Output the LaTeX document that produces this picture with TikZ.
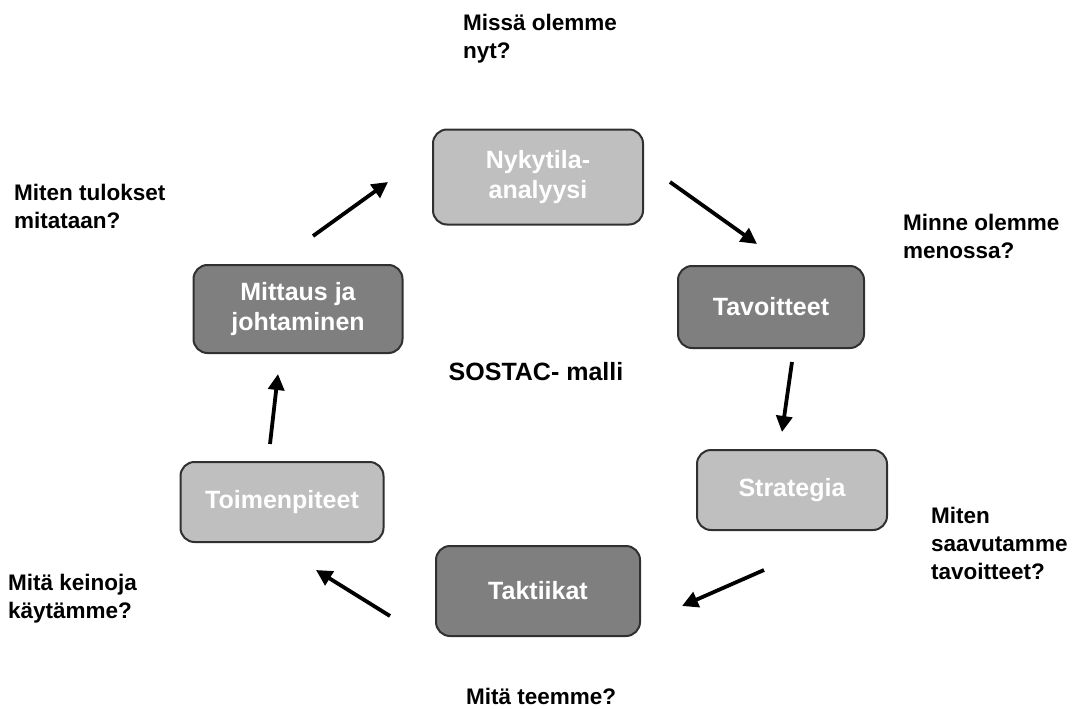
\documentclass[tikz,border=0pt]{standalone}
\usepackage{fontspec}
\setmainfont{Liberation Sans}
\usetikzlibrary{arrows.meta}
\definecolor{lightbox}{HTML}{BFBFBF}
\definecolor{darkbox}{HTML}{7F7F7F}
\definecolor{boxline}{HTML}{303030}
\tikzset{
  stagebox/.style={draw=boxline, line width=2pt, rounded corners=14pt, text=white,
    font=\fontsize{25}{30}\selectfont\bfseries, align=center, inner sep=0pt},
  lightstage/.style={stagebox, fill=lightbox},
  darkstage/.style={stagebox, fill=darkbox},
  question/.style={font=\fontsize{22.5}{28}\selectfont\bfseries, align=left, inner sep=0pt, anchor=base west},
  flow/.style={line width=3.8pt, -{Triangle[length=16pt,width=16pt]}, black},
}
\begin{document}
\begin{tikzpicture}[x=1pt,y=-1pt]
\useasboundingbox (0,0) rectangle (1082,709);
\node[lightstage, minimum width=210pt, minimum height=95pt] (nyky) at (538,177) {Nykytila-\\analyysi};
\node[darkstage, minimum width=186pt, minimum height=82pt] (tavo) at (771,307) {Tavoitteet};
\node[lightstage, minimum width=190pt, minimum height=80pt] (strat) at (792,490) {Strategia};
\node[darkstage, minimum width=204pt, minimum height=90pt] (takt) at (538,591) {Taktiikat};
\node[lightstage, minimum width=203pt, minimum height=80pt] (toim) at (282,502) {Toimenpiteet};
\node[darkstage, minimum width=209pt, minimum height=88pt] (mitt) at (298,309) {Mittaus ja\\johtaminen};

\node[font=\fontsize{25}{30}\selectfont\bfseries, inner sep=0pt, anchor=base] (malli) at (536,380) {SOSTAC- malli};

% multi-line nodes: anchor is the baseline of the last line
\node[question] (q1) at (463,59) {Missä olemme\\nyt?};
\node[question] (q2) at (903,258) {Minne olemme\\menossa?};
\node[question] (q3) at (931,579) {Miten\\saavutamme\\tavoitteet?};
\node[question] (q4) at (466,704) {Mitä teemme?};
\node[question] (q5) at (8,618) {Mitä keinoja\\käytämme?};
\node[question] (q6) at (14,228) {Miten tulokset\\mitataan?};

\coordinate (a1s) at (670,182); \coordinate (a1e) at (757,244);
\coordinate (a2s) at (792,362); \coordinate (a2e) at (782,432);
\coordinate (a3s) at (764,570); \coordinate (a3e) at (682,606);
\coordinate (a4s) at (390,616); \coordinate (a4e) at (316,570);
\coordinate (a5s) at (270,444); \coordinate (a5e) at (278,374);
\coordinate (a6s) at (313,236); \coordinate (a6e) at (388,182);
\draw[flow] (a1s) -- (a1e);
\draw[flow] (a2s) -- (a2e);
\draw[flow] (a3s) -- (a3e);
\draw[flow] (a4s) -- (a4e);
\draw[flow] (a5s) -- (a5e);
\draw[flow] (a6s) -- (a6e);
\end{tikzpicture}
\end{document}
